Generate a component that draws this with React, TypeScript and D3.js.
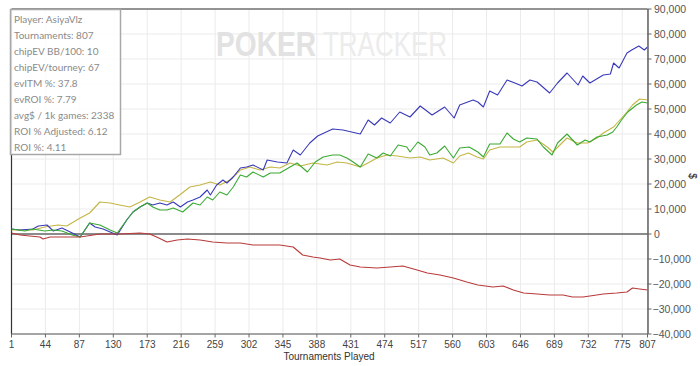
import React from 'react';
import * as d3 from 'd3';

const xTicks = [1, 44, 87, 130, 173, 216, 259, 302, 345, 388, 431, 474, 517, 560, 603, 646, 689, 732, 775, 807];
const yTicks = [-40000, -30000, -20000, -10000, 0, 10000, 20000, 30000, 40000, 50000, 60000, 70000, 80000, 90000];
const infoLines = [
  'Player: AsiyaVlz',
  'Tournaments: 807',
  'chipEV BB/100: 10',
  'chipEV/tourney: 67',
  'evITM %: 37.8',
  'evROI %: 7.79',
  'avg$ / 1k games: 2338',
  'ROI % Adjusted: 6.12',
  'ROI %: 4.11',
];

// [tournament, value in $]
const blueSeries: [number, number][] = [
  [1, 2000], [12, 1600], [28, 2000], [35, 3200], [46, 3600], [54, 1200], [65, 2400], [78, 400], [88, -1200],
  [100, 4400], [107, 2800], [117, 2000], [126, 800], [135, -400], [147, 5600], [155, 8800], [164, 10800],
  [173, 12400], [180, 11600], [189, 12400], [198, 11600], [206, 12800], [215, 10800], [224, 12800], [231, 13600],
  [240, 14800], [249, 17600], [253, 15600], [261, 19600], [269, 21600], [274, 20400], [282, 22800], [291, 26400],
  [299, 26800], [307, 27600], [320, 25600], [325, 29600], [338, 28800], [350, 28400], [358, 33600], [367, 31600],
  [379, 36400], [389, 39200], [408, 42000], [421, 41600], [443, 40000], [453, 45600], [461, 43600], [470, 46400],
  [481, 44400], [493, 48800], [506, 46800], [519, 51200], [534, 47600], [550, 50800], [562, 46400], [569, 51600],
  [586, 53600], [592, 52800], [599, 50800], [607, 57200], [617, 55600], [629, 61600], [639, 60400], [648, 59200],
  [658, 61600], [667, 60800], [683, 56400], [693, 60400], [705, 64400], [719, 59600], [725, 63200], [734, 60400],
  [751, 63600], [760, 64000], [764, 68400], [771, 66400], [781, 72400], [787, 73600], [796, 75200], [803, 73600],
  [807, 74800],
];

const yellowSeries: [number, number][] = [
  [1, 1600], [28, 1600], [43, 2800], [60, 3600], [71, 3200], [88, 6400], [100, 8400], [113, 12800], [126, 12400],
  [138, 11600], [151, 10800], [164, 12800], [176, 14800], [189, 13600], [202, 12800], [214, 15600], [227, 18800],
  [240, 19600], [253, 20800], [265, 19600], [278, 21600], [291, 25600], [303, 26800], [316, 25600], [329, 26800],
  [341, 26400], [354, 28400], [367, 27200], [383, 28400], [401, 27600], [414, 28800], [426, 28400], [443, 26800],
  [455, 28800], [464, 30400], [477, 31600], [490, 31200], [506, 30400], [519, 30800], [531, 29600], [548, 30400],
  [561, 28400], [569, 31200], [580, 32400], [591, 30800], [599, 30000], [607, 33600], [620, 34800], [633, 34800],
  [645, 34800], [654, 36800], [667, 37600], [680, 34800], [687, 32800], [705, 38400], [718, 36400], [731, 36400],
  [743, 38400], [751, 40400], [764, 42800], [772, 45600], [781, 48800], [788, 51600], [797, 54000], [807, 53600],
];

const greenSeries: [number, number][] = [
  [1, 2000], [18, 1200], [28, 2000], [43, 1200], [54, 1600], [65, 1200], [78, -400], [88, -1200], [100, 4400],
  [113, 3600], [126, 1600], [135, 400], [147, 5600], [155, 8800], [164, 10800], [173, 12400], [180, 10800],
  [189, 9600], [198, 9600], [206, 10400], [218, 8800], [231, 12400], [240, 11600], [249, 14800], [256, 13600],
  [265, 16800], [274, 15600], [282, 18800], [291, 23600], [299, 22800], [307, 24800], [320, 22800], [329, 24400],
  [341, 24400], [354, 26800], [363, 28400], [376, 24800], [386, 28800], [396, 30800], [408, 31600], [417, 31600],
  [426, 30400], [434, 28800], [443, 26800], [453, 32000], [464, 30400], [472, 32400], [481, 31200], [491, 35600],
  [502, 34800], [506, 32800], [516, 36800], [525, 34800], [531, 31600], [540, 32400], [550, 35200], [561, 30400],
  [569, 34400], [581, 34800], [592, 32800], [599, 30800], [607, 36000], [620, 36000], [629, 40400], [637, 38000],
  [645, 36800], [654, 38400], [667, 38000], [675, 34800], [686, 31600], [693, 36400], [705, 40000], [718, 35600],
  [728, 37600], [734, 36800], [743, 38800], [756, 39600], [763, 40800], [768, 42800], [774, 45600], [782, 48800],
  [793, 51600], [800, 52800], [807, 52400],
];

const redSeries: [number, number][] = [
  [1, 400], [12, -400], [24, -800], [37, -1200], [41, -2000], [50, -1200], [71, -1200], [88, -1200], [113, 0],
  [138, 0], [164, 400], [176, 0], [185, -1200], [198, -3200], [211, -2400], [224, -2000], [240, -2400],
  [256, -3200], [274, -3600], [291, -3600], [307, -4400], [325, -4400], [341, -4400], [358, -5200], [370, -8400],
  [383, -9200], [392, -9600], [405, -10400], [417, -10000], [430, -12400], [443, -13200], [464, -13600],
  [481, -13200], [497, -12800], [515, -14400], [528, -15600], [544, -16400], [561, -17600], [578, -19200],
  [592, -20400], [611, -21200], [624, -20800], [637, -22400], [650, -23600], [667, -24000], [683, -24400],
  [700, -24400], [712, -25200], [725, -25200], [734, -24800], [751, -24000], [768, -23600], [781, -23200],
  [788, -21600], [797, -22000], [807, -22400],
];

const seriesList: { data: [number, number][]; color: string }[] = [
  { data: yellowSeries, color: '#c4b545' },
  { data: blueSeries, color: '#3a3ab8' },
  { data: greenSeries, color: '#3aaa32' },
  { data: redSeries, color: '#b83a3a' },
];

export default function App() {
  const W = 700;
  const H = 366;
  const left = 11.5;
  const right = 647.5;
  const top = 9;
  const bottom = 334;
  const x = d3.scaleLinear().domain([1, 807]).range([left, right]);
  const y = d3.scaleLinear().domain([-40000, 90000]).range([bottom, top]);
  const line = d3
    .line<[number, number]>()
    .x((d) => x(d[0]))
    .y((d) => y(d[1]));
  const fmt = d3.format(',');
  const axisFont = "'Liberation Sans', Arial, sans-serif";

  return (
    <svg
      width={W}
      height={H}
      viewBox={`0 0 ${W} ${H}`}
      style={{ position: 'absolute', left: 0, top: 0, background: '#fff' }}
    >
      <defs>
        <clipPath id="plotClip">
          <rect x={left} y={top} width={right - left} height={bottom - top} />
        </clipPath>
      </defs>
      <rect x={0} y={0} width={W} height={H} fill="#fff" />
      {/* grid */}
      {xTicks.map((t) => (
        <line key={'gx' + t} x1={x(t)} x2={x(t)} y1={top} y2={bottom} stroke="#ebebeb" strokeWidth={1} />
      ))}
      {yTicks.map((v) => (
        <line key={'gy' + v} x1={left} x2={right} y1={y(v)} y2={y(v)} stroke="#ebebeb" strokeWidth={1} />
      ))}
      {/* watermark */}
      <text
        transform="translate(216,56) scale(1,1.2)"
        fontFamily={axisFont}
        fontWeight="bold"
        fontSize={29}
        fill="#e2e2e2"
        textLength={100}
        lengthAdjust="spacingAndGlyphs"
      >
        POKER
      </text>
      <text
        transform="translate(323,56) scale(1,1.2)"
        fontFamily={axisFont}
        fontSize={29}
        fill="#ececec"
        textLength={124}
        lengthAdjust="spacingAndGlyphs"
      >
        TRACKER
      </text>
      {/* borders */}
      <line x1={left} x2={right} y1={top} y2={top} stroke="#333" strokeWidth={1.2} />
      <line x1={left} x2={left} y1={top} y2={bottom} stroke="#333" strokeWidth={1.2} />
      <line x1={left} x2={right} y1={y(0)} y2={y(0)} stroke="#222" strokeWidth={1.2} />
      {/* series */}
      <g clipPath="url(#plotClip)">
        {seriesList.map((s, i) => (
          <path key={i} d={line(s.data) || ''} fill="none" stroke={s.color} strokeWidth={1.1} strokeLinejoin="round" />
        ))}
      </g>
      {/* bottom axis */}
      <line x1={left} x2={right} y1={bottom} y2={bottom} stroke="#8a8a8a" strokeWidth={1.6} />
      {xTicks.map((t) => (
        <g key={'xt' + t}>
          <line x1={x(t)} x2={x(t)} y1={bottom} y2={bottom + 3.5} stroke="#666" strokeWidth={1} />
          <text x={x(t)} y={347.5} textAnchor="middle" fontFamily={axisFont} fontSize={10} fill="#444">
            {t}
          </text>
        </g>
      ))}
      <text x={329} y={360} textAnchor="middle" fontFamily={axisFont} fontSize={10} fill="#333">
        Tournaments Played
      </text>
      {/* right axis */}
      <line x1={right + 0.5} x2={right + 0.5} y1={top} y2={bottom} stroke="#555" strokeWidth={1.4} />
      {yTicks.map((v) => (
        <g key={'yt' + v}>
          <line x1={right} x2={right + 4} y1={y(v)} y2={y(v)} stroke="#666" strokeWidth={1} />
          <text x={v < 0 ? 652.5 : 654} y={y(v) + 3.5} fontFamily={axisFont} fontSize={10.5} fill="#555">
            {fmt(v)}
          </text>
        </g>
      ))}
      <text
        transform="translate(689,176) rotate(90)"
        textAnchor="middle"
        fontFamily={axisFont}
        fontSize={10}
        fill="#222"
      >
        $
      </text>
      {/* info box */}
      <rect x={10.5} y={9.5} width={110} height={145} fill="#fff" fillOpacity={0.85} stroke="#a8a8a8" strokeWidth={1.5} />
      {infoLines.map((s, i) => (
        <text key={s} x={14} y={22.5 + i * 16.1} fontFamily="Lato, 'Liberation Sans', sans-serif" fontSize={10} fill="#8a8a8a">
          {s}
        </text>
      ))}
    </svg>
  );
}
